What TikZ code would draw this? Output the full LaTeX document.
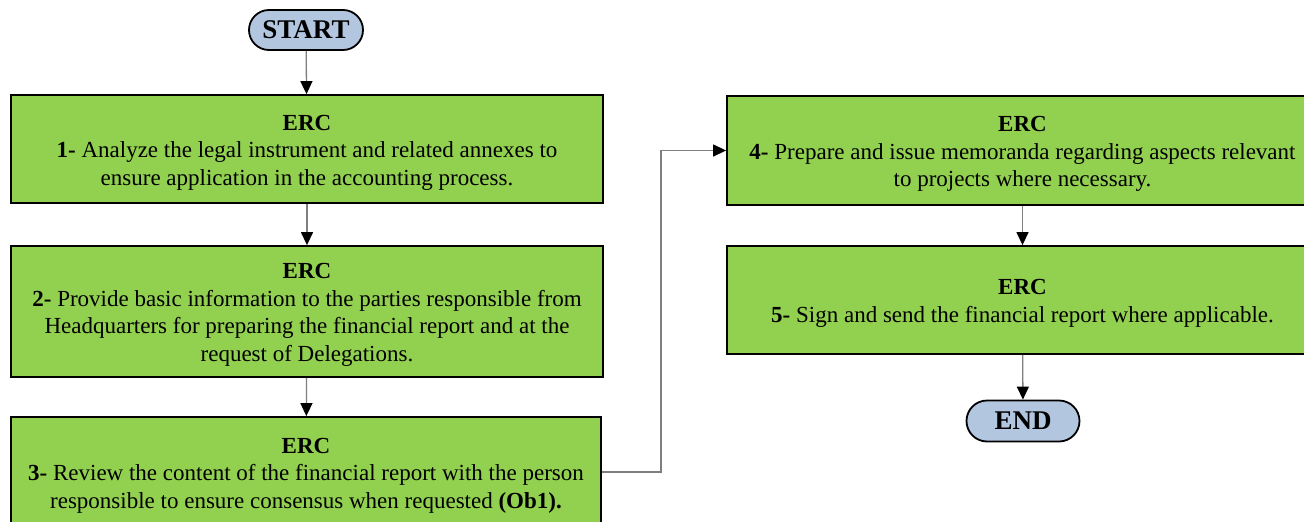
\documentclass[tikz,border=0pt]{standalone}
\usepackage{fontspec}
\setmainfont{Liberation Serif}
\usetikzlibrary{arrows.meta,shapes.misc}
\definecolor{stepgreen}{HTML}{92D050}
\definecolor{termblue}{HTML}{B3C6E0}
\definecolor{linkgray}{HTML}{7F7F7F}
% heading line of every step box, with a strut that sets the text a little low
\newcommand\ercline{\rule{0pt}{22pt}\textbf{ERC}}
\begin{document}
\begin{tikzpicture}[x=1pt,y=-1pt,
  stepbox/.style={draw=black,line width=1.8pt,fill=stepgreen,rectangle,
    align=center,inner sep=0pt,font=\fontsize{23}{27.5}\selectfont},
  terminal/.style={draw=black,line width=1.8pt,fill=termblue,rounded rectangle,
    inner sep=0pt,font=\fontsize{27}{30}\selectfont\bfseries},
  link/.style={draw=linkgray,line width=1.3pt,
    -{Triangle[color=black,length=13pt,width=12pt]}}]
\useasboundingbox (0,0) rectangle (1304,522);
\clip (0,0) rectangle (1304,522);
\fill[white] (0,0) rectangle (1304,522);

\node[terminal,minimum width=114pt,minimum height=40pt] (start) at (306,30) {START};

\node[stepbox,minimum width=592pt,minimum height=108pt] (s1) at (307,149)
  {\ercline\\\textbf{1-} Analyze the legal instrument and related annexes to\\ensure application in the accounting process.};

\node[stepbox,minimum width=592pt,minimum height=131pt] (s2) at (307,311.5)
  {\ercline\\\textbf{2-} Provide basic information to the parties responsible from\\Headquarters for preparing the financial report and at the\\request of Delegations.};

\node[stepbox,minimum width=590pt,minimum height=110pt] (s3) at (306,472)
  {\ercline\\\textbf{3-} Review the content of the financial report with the person\\responsible to ensure consensus when requested \textbf{(Ob1).}};

\node[stepbox,minimum width=591pt,minimum height=109pt] (s4) at (1022.5,150.5)
  {\ercline\\\textbf{4-} Prepare and issue memoranda regarding aspects relevant\\to projects where necessary.};

\node[stepbox,minimum width=591pt,minimum height=108pt] (s5) at (1022.5,300)
  {\ercline\\\textbf{5-} Sign and send the financial report where applicable.};

\node[terminal,minimum width=113pt,minimum height=41pt] (end) at (1023,421) {END};

\draw[link] (start) -- (s1);
\draw[link] (s1) -- (s2);
\draw[link] (s2) -- (s3);
\draw[link] (s3.east) -- ++(59,0) |- (s4.west);
\draw[link] (s4) -- (s5);
\draw[link] (s5) -- (end);
\end{tikzpicture}
\end{document}
